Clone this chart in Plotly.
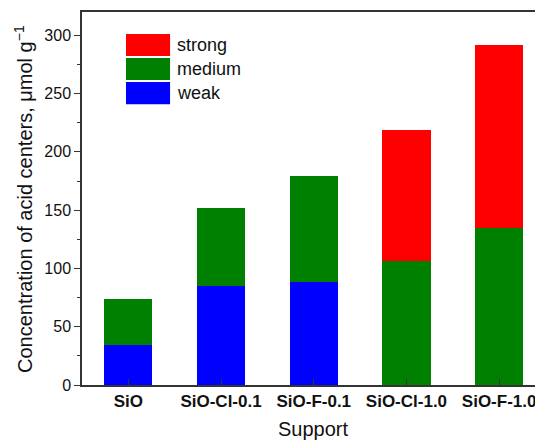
import plotly.graph_objects as go

# носители и концентрации кислотных центров, мкмоль/г
supports = ["SiO", "SiO-Cl-0.1", "SiO-F-0.1", "SiO-Cl-1.0", "SiO-F-1.0"]
weak = [34, 85, 88.5, 0, 0]
medium = [39.5, 67, 90.5, 106, 135]
strong = [0, 0, 0, 113, 157]

series = [("weak", weak, "#0000FF"), ("medium", medium, "#008000"), ("strong", strong, "#FF0000")]

fig = go.Figure()
for name, vals, col in series:
    fig.add_trace(go.Bar(x=supports, y=vals, name=name, marker=dict(color=col, line=dict(width=0)),
                         showlegend=False))

# легенда в стиле Origin: большие прямоугольники
shapes, annots = [], []
row_top = [0.941, 0.877, 0.812]
for i, (name, vals, col) in enumerate(reversed(series)):
    top = row_top[i]
    shapes.append(dict(type="rect", xref="paper", yref="paper", x0=0.0954, x1=0.191,
                       y0=top - 0.059, y1=top, fillcolor=col, line=dict(width=0)))
    annots.append(dict(text=name, xref="paper", yref="paper", x=0.2017, y=top - 0.0295,
                       xanchor="left", yanchor="middle", showarrow=False,
                       font=dict(size=18, color="#111")))

# подписи осей
annots.append(dict(text="Support", xref="paper", yref="paper", x=0.5, y=-0.118,
                   xanchor="center", yanchor="middle", showarrow=False, font=dict(size=20)))
annots.append(dict(text="Concentration of acid centers, μmol g<sup>−1</sup>", xref="paper", yref="paper",
                   x=-0.127, y=0.5, textangle=-90, xanchor="center", yanchor="middle",
                   showarrow=False, font=dict(size=20)))

# страница смещает фигуру на 8px (отступ body), поэтому размер чуть меньше окна
fig.update_layout(
    width=535, height=433,
    margin=dict(l=74, r=0, t=4, b=56),
    barmode="stack", bargap=0.48,
    plot_bgcolor="white", paper_bgcolor="white",
    font=dict(family="Liberation Sans, Arial", color="#111"),
    shapes=shapes, annotations=annots,
)
fig.update_xaxes(
    range=[-0.5, 4.473], showline=True, linecolor="#333", linewidth=1.5, mirror=True,
    ticks="inside", ticklen=6, tickcolor="#333", tickwidth=1.2,
    tickfont=dict(size=17, weight="bold", color="#111"),
    showgrid=False, automargin=False,
)
fig.update_yaxes(
    range=[0, 320], dtick=50, showline=True, linecolor="#333", linewidth=1.5,
    ticks="outside", ticklen=6, tickcolor="#333", tickwidth=1.2,
    minor=dict(ticks="outside", ticklen=3, dtick=25, tickcolor="#333"),
    tickfont=dict(size=16, color="#111"),
    showgrid=False, zeroline=False, automargin=False,
)

fig.write_html("out.html")
